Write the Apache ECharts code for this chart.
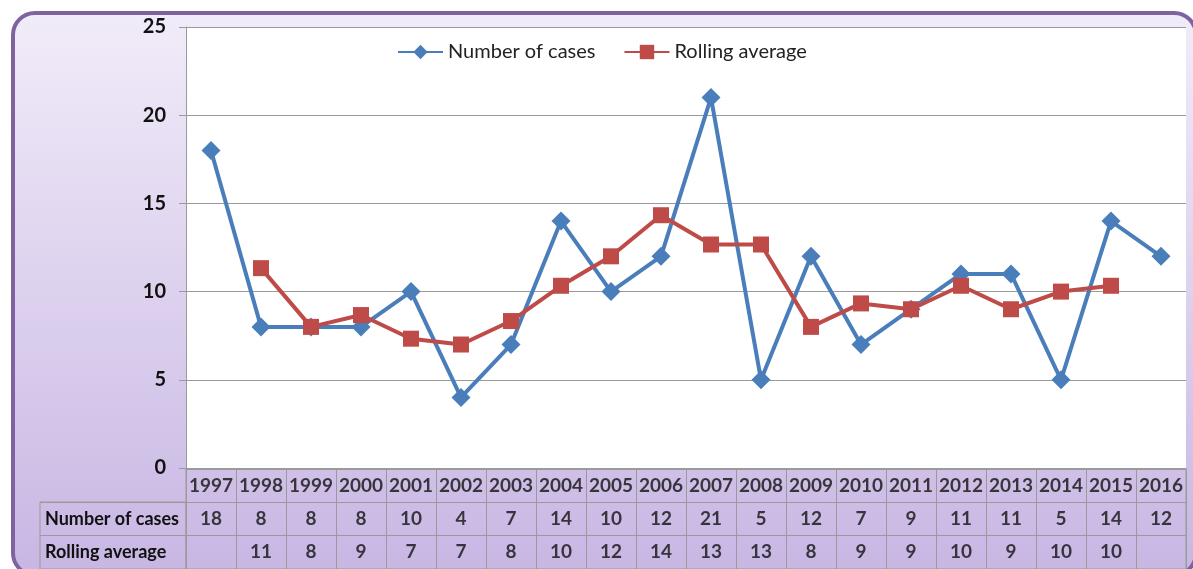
<!DOCTYPE html>
<html>
<head>
<meta charset="utf-8">
<script src="https://cdn.jsdelivr.net/npm/echarts@6/dist/echarts.min.js"></script>
<style>
  html, body { margin: 0; padding: 0; background: #fff; }
  #main { width: 1193px; height: 569px; }
</style>
</head>
<body>
<div id="main"></div>
<script>
var years = ["1997", "1998", "1999", "2000", "2001", "2002", "2003", "2004", "2005", "2006",
  "2007", "2008", "2009", "2010", "2011", "2012", "2013", "2014", "2015", "2016"];
var cases = [18, 8, 8, 8, 10, 4, 7, 14, 10, 12, 21, 5, 12, 7, 9, 11, 11, 5, 14, 12];
var rolling = [null, 11.33, 8, 8.67, 7.33, 7, 8.33, 10.33, 12, 14.33,
  12.67, 12.67, 8, 9.33, 9, 10.33, 9, 10, 10.33, null];
var rowNames = ["Number of cases", "Rolling average"];
var yTicks = [0, 5, 10, 15, 20, 25];

var FONT = "Lato";
var GRID_LINE = "#9a9a9a";

// cells of the data table: header row = years, then the two series
var tableCells = [];
years.forEach(function (y, i) {
  tableCells.push([i, 0, y]);
  tableCells.push([i, 1, String(cases[i])]);
  tableCells.push([i, 2, rolling[i] == null ? "" : String(Math.round(rolling[i]))]);
});

var chart = echarts.init(document.getElementById("main"));

var option = {
  animation: false,
  textStyle: { fontFamily: FONT },
  graphic: [
    {
      type: "rect",
      z: -10,
      silent: true,
      shape: { x: 13, y: 13, width: 1183, height: 562, r: 22 },
      style: {
        fill: {
          type: "linear", x: 0, y: 0, x2: 0, y2: 1,
          colorStops: [
            { offset: 0, color: "#f1ecf9" },
            { offset: 1, color: "#c8b6e3" }
          ]
        },
        stroke: "#7f63a1",
        lineWidth: 4
      }
    }
  ],
  legend: {
    left: 392,
    top: 37,
    itemWidth: 45,
    itemHeight: 18,
    itemGap: 28,
    textStyle: { fontFamily: FONT, fontSize: 20, color: "#222" },
    data: ["Number of cases", "Rolling average"]
  },
  grid: [
    // plot area
    { left: 186, right: 7, top: 27, bottom: 101, show: true, backgroundColor: "#fff", borderWidth: 0 },
    // table body (years + values)
    { left: 186, right: 7, top: 469, height: 102, show: true, backgroundColor: "transparent", borderColor: GRID_LINE, borderWidth: 1 },
    // row-name column
    { left: 40, width: 146, top: 502, height: 69, show: true, backgroundColor: "transparent", borderColor: GRID_LINE, borderWidth: 1 }
  ],
  xAxis: [
    {
      type: "category", gridIndex: 0, data: years, boundaryGap: true,
      axisLine: { show: true, lineStyle: { color: GRID_LINE } },
      axisTick: { show: false },
      axisLabel: { show: false },
      splitLine: { show: false }
    },
    {
      type: "category", gridIndex: 1, data: years, boundaryGap: true,
      axisLine: { show: false }, axisTick: { show: false }, axisLabel: { show: false },
      splitLine: { show: true, interval: 0, lineStyle: { color: GRID_LINE } }
    },
    {
      type: "category", gridIndex: 2, data: [""], boundaryGap: true,
      axisLine: { show: false }, axisTick: { show: false }, axisLabel: { show: false },
      splitLine: { show: false }
    }
  ],
  yAxis: [
    {
      type: "value", gridIndex: 0, min: 0, max: 25, interval: 5,
      axisLine: { show: true, lineStyle: { color: GRID_LINE } },
      axisTick: { show: true, inside: false, length: 7, lineStyle: { color: GRID_LINE } },
      axisLabel: {
        margin: 20, fontSize: 20, fontWeight: "bold", color: "#111", fontFamily: FONT,
        formatter: function (v) { return yTicks.indexOf(v) >= 0 ? String(v) : ""; }
      },
      splitLine: { show: true, lineStyle: { color: GRID_LINE, width: 1 } }
    },
    {
      type: "category", gridIndex: 1, data: ["", rowNames[0], rowNames[1]], inverse: true,
      axisLine: { show: false }, axisTick: { show: false }, axisLabel: { show: false },
      splitLine: { show: true, interval: 0, lineStyle: { color: GRID_LINE } }
    },
    {
      type: "category", gridIndex: 2, data: rowNames, inverse: true,
      axisLine: { show: false }, axisTick: { show: false },
      axisLabel: {
        inside: true, margin: 5, fontSize: 18, fontWeight: "bold", color: "#111", fontFamily: FONT
      },
      splitLine: { show: true, interval: 0, lineStyle: { color: GRID_LINE } }
    }
  ],
  series: [
    {
      name: "Number of cases",
      type: "line",
      xAxisIndex: 0, yAxisIndex: 0,
      data: cases,
      symbol: "diamond",
      symbolSize: 19,
      showAllSymbol: true,
      lineStyle: { color: "#4a7ebb", width: 4 },
      itemStyle: { color: "#4a7ebb" },
      z: 2
    },
    {
      name: "Rolling average",
      type: "line",
      xAxisIndex: 0, yAxisIndex: 0,
      data: rolling,
      symbol: "rect",
      symbolSize: 16,
      showAllSymbol: true,
      lineStyle: { color: "#be4b48", width: 4 },
      itemStyle: { color: "#be4b48" },
      z: 3
    },
    {
      name: "table",
      type: "scatter",
      xAxisIndex: 1, yAxisIndex: 1,
      data: tableCells,
      symbol: "rect",
      symbolSize: 1,
      itemStyle: { color: "rgba(0,0,0,0)" },
      silent: true,
      label: {
        show: true,
        position: "inside",
        formatter: function (p) { return p.value[2]; },
        fontSize: 19,
        fontWeight: "bold",
        color: "#111",
        fontFamily: FONT
      }
    }
  ]
};

chart.setOption(option);
</script>
</body>
</html>
